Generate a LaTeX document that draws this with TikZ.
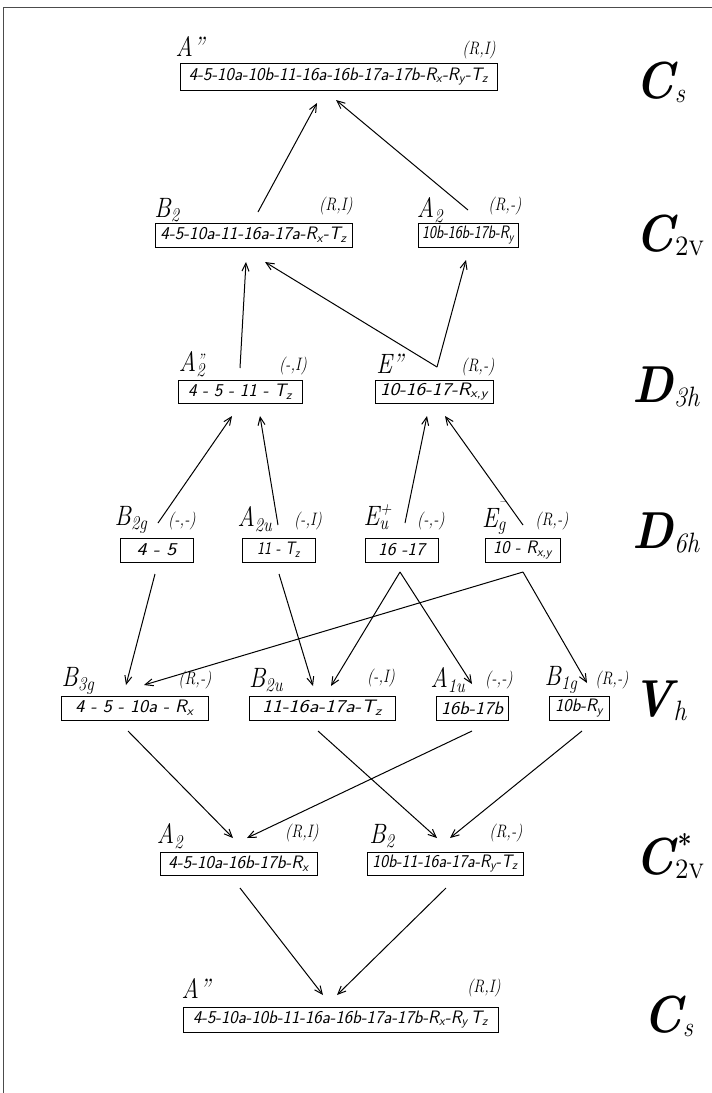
\documentclass[tikz,border=0pt]{standalone}
\usepackage{graphicx}
\usetikzlibrary{arrows.meta}
\newcommand\fw[2]{\resizebox{#1pt}{\height}{#2}}
\newcommand\sx[1]{\textsubscript{#1}}
\newcommand\gx[1]{\scalebox{0.9}[1]{#1}}
\newcommand\spx[1]{\scalebox{0.85}[1]{#1}}
\newcommand\sps[4][12pt]{#2\rlap{\kern1pt\raisebox{#1}{\fontsize{18}{18}\selectfont #4}}\textsubscript{#3}}
\newcommand\grl[3]{{\bfseries\itshape #1}\kern1pt\rlap{\kern3pt\raisebox{20pt}{\fontsize{28}{28}\selectfont\bfseries #3}}\raisebox{-4pt}{\fontsize{28}{28}\selectfont #2}}
\begin{document}
\begin{tikzpicture}[x=1pt,y=-1pt,
  bx/.style={draw, line width=0.8pt, inner sep=0pt, font=\fontsize{18}{18}\selectfont\sffamily\itshape},
  sp/.style={inner sep=0pt, font=\fontsize{28}{28}\selectfont\itshape},
  pr/.style={inner sep=0pt, font=\fontsize{18}{18}\selectfont\itshape},
  grp/.style={inner sep=0pt, anchor=base west, font=\fontsize{52}{52}\selectfont},
  ar/.style={line width=1pt, -{Straight Barb[length=8pt,width=7pt]}}]
\useasboundingbox (0,0) rectangle (712,1093);
\fill[white] (0,0) rectangle (712,1093);
\draw[line width=1pt, black!70] (3,1093) -- (3,7) -- (712,7);

% ---------- row 1 : Cs
\node[sp] (l1) at (190,47) {\spx{A''}};
\node[pr] (p1) at (479,50) {\spx{(R,I)}};
\node[bx, minimum width=317pt, minimum height=27pt] (b1) at (338.5,76.5)
  {\fw{299}{4-5-10a-10b-11-16a-16b-17a-17b-R\sx{x}-R\sx{y}-T\sx{z}}};
\node[grp] (g1) at (635,98) {\gx{\grl{C}{\itshape s}{}}};

% ---------- row 2 : C2v
\node[sp] (l2a) at (167,210) {\spx{\sps{B}{2}{}}};
\node[pr] (p2a) at (336,206) {\spx{(R,I)}};
\node[bx, minimum width=197pt, minimum height=24pt] (b2a) at (253.5,235)
  {\fw{186}{4-5-10a-11-16a-17a-R\sx{x}-T\sx{z}}};
\node[sp] (l2b) at (430,210) {\spx{\sps{A}{2}{}}};
\node[pr] (p2b) at (505,206) {\spx{(R,-)}};
\node[bx, minimum width=100pt, minimum height=24pt] (b2b) at (468,235)
  {\fw{92}{10b-16b-17b-R\sx{y}}};
\node[grp] (g2) at (635,251) {\gx{\grl{C}{\scshape 2v}{}}};

% ---------- row 3 : D3h
\node[sp] (l3a) at (192,364) {\spx{\sps[5pt]{A}{2}{''}}};
\node[pr] (p3a) at (293,366) {\spx{(-,I)}};
\node[bx, minimum width=124pt, minimum height=23pt] (b3a) at (240,391.5)
  {\fw{104}{4 - 5 - 11 - T\sx{z}}};
\node[sp] (l3b) at (390,364) {\spx{E''}};
\node[pr] (p3b) at (478,367) {\spx{(R,-)}};
\node[bx, minimum width=118pt, minimum height=23pt] (b3b) at (434,391.5)
  {\fw{108}{10-16-17-R\sx{x,y}}};
\node[grp] (g3) at (632,402) {\gx{\grl{D}{\itshape 3h}{}}};

% ---------- row 4 : D6h
\node[sp] (l4a) at (131,520) {\spx{\sps{B}{2g}{}}};
\node[pr] (p4a) at (182,521) {\spx{(-,-)}};
\node[bx, minimum width=73pt, minimum height=24pt] (b4a) at (156.5,550) {\fw{40}{4 - 5}};
\node[sp] (l4b) at (255,519) {\spx{\sps{A}{2u}{}}};
\node[pr] (p4b) at (308,521) {\spx{(-,I)}};
\node[bx, minimum width=73pt, minimum height=24pt] (b4b) at (278.5,550) {\fw{43}{11 - T\sx{z}}};
\node[sp] (l4c) at (376,517) {\spx{\sps[11pt]{E}{u}{+}}};
\node[pr] (p4c) at (431,521) {\spx{(-,-)}};
\node[bx, minimum width=73pt, minimum height=24pt] (b4c) at (401.5,550) {\fw{47}{16 -17}};
\node[sp] (l4d) at (494,518) {\spx{\sps[21pt]{E}{g}{--}}};
\node[pr] (p4d) at (552,521) {\spx{(R,-)}};
\node[bx, minimum width=75pt, minimum height=24pt] (b4d) at (522.5,550) {\fw{59}{10 - R\sx{x,y}}};
\node[grp] (g4) at (632,548) {\gx{\grl{D}{\itshape 6h}{}}};

% ---------- row 5 : Vh
\node[sp] (l5a) at (78,681) {\spx{\sps{B}{3g}{}}};
\node[pr] (p5a) at (195,680) {\spx{(R,-)}};
\node[bx, minimum width=147pt, minimum height=24pt] (b5a) at (134.5,708) {\fw{118}{4 - 5 - 10a - R\sx{x}}};
\node[sp] (l5b) at (266,680) {\spx{\sps{B}{2u}{}}};
\node[pr] (p5b) at (381,678) {\spx{(-,I)}};
\node[bx, minimum width=146pt, minimum height=24pt] (b5b) at (322,708) {\fw{120}{11-16a-17a-T\sx{z}}};
\node[sp] (l5c) at (448,680) {\spx{\sps{A}{1u}{}}};
\node[pr] (p5c) at (499,680) {\spx{(-,-)}};
\node[bx, minimum width=72pt, minimum height=24pt] (b5c) at (472,708) {\fw{62}{16b-17b}};
\node[sp] (l5d) at (561,680) {\spx{\sps{B}{1g}{}}};
\node[pr] (p5d) at (612,680) {\spx{(R,-)}};
\node[bx, minimum width=60pt, minimum height=24pt] (b5d) at (579,708) {\fw{48}{10b-R\sx{y}}};
\node[grp] (g5) at (632,716) {\gx{\grl{V}{\itshape h}{}}};

% ---------- row 6 : C2v*
\node[sp] (l6a) at (170,836) {\spx{\sps{A}{2}{}}};
\node[pr] (p6a) at (302,833) {\spx{(R,I)}};
\node[bx, minimum width=157pt, minimum height=23pt] (b6a) at (238.5,863.5) {\fw{140}{4-5-10a-16b-17b-R\sx{x}}};
\node[sp] (l6b) at (382,836) {\spx{\sps{B}{2}{}}};
\node[pr] (p6b) at (506,833) {\spx{(R,-)}};
\node[bx, minimum width=156pt, minimum height=23pt] (b6b) at (445,863.5) {\fw{145}{10b-11-16a-17a-R\sx{y}-T\sx{z}}};
\node[grp] (g6) at (635,874) {\gx{\grl{C}{\scshape 2v}{*}}};

% ---------- row 7 : Cs
\node[sp] (l7) at (196,988) {\spx{A''}};
\node[pr] (p7) at (484,988) {\spx{(R,I)}};
\node[bx, minimum width=315pt, minimum height=25pt] (b7) at (340.5,1019.5)
  {\fw{295}{4-5-10a-10b-11-16a-16b-17a-17b-R\sx{x}-R\sx{y}\,T\sx{z}}};
\node[grp] (g7) at (643,1032) {\gx{\grl{C}{\itshape s}{}}};

% ---------- connector ends
\coordinate (c2a) at (258,212);  \coordinate (c1a) at (317,103);
\coordinate (c2b) at (468,210);  \coordinate (c1b) at (336,100);
\coordinate (c3a) at (240,368);  \coordinate (c2ai) at (246,262);
\coordinate (c3b) at (437,367);  \coordinate (c2aj) at (265,262);
                                 \coordinate (c2bi) at (466,260);
\coordinate (c4a) at (158,523);  \coordinate (c3ai) at (232,416);
\coordinate (c4b) at (278,525);  \coordinate (c3aj) at (260,416);
\coordinate (c4c) at (405,523);  \coordinate (c3bi) at (427,416);
\coordinate (c4d) at (523,525);  \coordinate (c3bj) at (445,416);
\coordinate (d4a) at (155,574);  \coordinate (c5ai) at (126,685);
\coordinate (d4b) at (279,574);  \coordinate (c5bi) at (313,686);
\coordinate (d4c) at (400,572);  \coordinate (c5bj) at (331,686);
                                 \coordinate (c5ci) at (472,684);
\coordinate (d4d) at (523,572);  \coordinate (c5aj) at (144,685);
                                 \coordinate (c5di) at (587,683);
\coordinate (d5a) at (128,731);  \coordinate (c6ai) at (233,838);
\coordinate (d5b) at (318,731);  \coordinate (c6bi) at (437,838);
\coordinate (d5c) at (472,731);  \coordinate (c6aj) at (247,838);
\coordinate (d5d) at (582,731);  \coordinate (c6bj) at (450,838);
\coordinate (d6a) at (240,888);  \coordinate (c7i) at (323,995);
\coordinate (d6b) at (446,888);  \coordinate (c7j) at (337,995);

% ---------- connectors
\draw[ar] (c2a) -- (c1a);
\draw[ar] (c2b) -- (c1b);
\draw[ar] (c3a) -- (c2ai);
\draw[ar] (c3b) -- (c2aj);
\draw[ar] (c3b) -- (c2bi);
\draw[ar] (c4a) -- (c3ai);
\draw[ar] (c4b) -- (c3aj);
\draw[ar] (c4c) -- (c3bi);
\draw[ar] (c4d) -- (c3bj);
\draw[ar] (d4a) -- (c5ai);
\draw[ar] (d4b) -- (c5bi);
\draw[ar] (d4c) -- (c5bj);
\draw[ar] (d4c) -- (c5ci);
\draw[ar] (d4d) -- (c5aj);
\draw[ar] (d4d) -- (c5di);
\draw[ar] (d5a) -- (c6ai);
\draw[ar] (d5b) -- (c6bi);
\draw[ar] (d5c) -- (c6aj);
\draw[ar] (d5d) -- (c6bj);
\draw[ar] (d6a) -- (c7i);
\draw[ar] (d6b) -- (c7j);
\end{tikzpicture}
\end{document}
